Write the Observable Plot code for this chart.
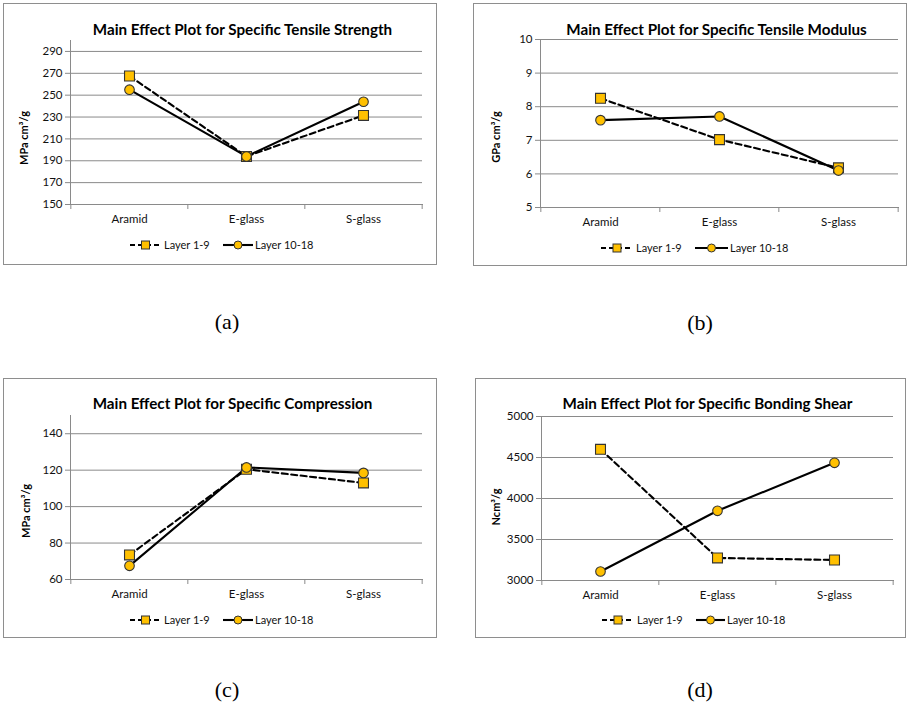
<!DOCTYPE html>
<html><head><meta charset="utf-8">
<script src="https://cdn.jsdelivr.net/npm/d3@7"></script>
<script src="https://cdn.jsdelivr.net/npm/@observablehq/plot@0.6"></script>
<style>
body{margin:0;background:#fff;width:911px;height:706px;position:relative;overflow:hidden;font-family:Lato,sans-serif}
.box{position:absolute;border:1px solid #8e8e8e;box-sizing:border-box}
.plotwrap{position:absolute}
.plotwrap svg{overflow:visible;display:block}
.title{position:absolute;font-weight:bold;font-size:15.2px;font-family:Lato,sans-serif;white-space:nowrap;transform:translate(-50%,-50%);color:#000}
.ylab{position:absolute;font-weight:bold;font-size:11px;font-family:Lato,sans-serif;white-space:nowrap;transform:translate(-50%,-50%) rotate(-90deg);color:#000}
.cap{position:absolute;font-size:22px;font-family:"Liberation Serif",serif;transform:translate(-50%,-50%);color:#000}
.legend{position:absolute;overflow:visible}
</style>
</head><body>
<script>
const categories = ["Aramid", "E-glass", "S-glass"];
const seriesNames = ["Layer 1-9", "Layer 10-18"];

const strengthL1 = [267.5, 194, 231.5];
const strengthL2 = [255, 194, 244];
const strengthTicks = [150, 170, 190, 210, 230, 250, 270, 290];

const modulusL1 = [8.25, 7.02, 6.18];
const modulusL2 = [7.6, 7.71, 6.1];
const modulusTicks = [5, 6, 7, 8, 9, 10];

const compressionL1 = [73.5, 120.5, 113];
const compressionL2 = [67.5, 121.5, 118.5];
const compressionTicks = [60, 80, 100, 120, 140];

const shearL1 = [4600, 3275, 3250];
const shearL2 = [3110, 3850, 4435];
const shearTicks = [3000, 3500, 4000, 4500, 5000];

const titles = [
  "Main Effect Plot for Specific Tensile Strength",
  "Main Effect Plot for Specific Tensile Modulus",
  "Main Effect Plot for Specific Compression",
  "Main Effect Plot for Specific Bonding Shear"
];
const yLabels = ["MPa cm³/g", "GPa cm³/g", "MPa cm³/g", "Ncm³/g"];
const captions = ["(a)", "(b)", "(c)", "(d)"];

const panels = [
  {l1: strengthL1, l2: strengthL2, ticks: strengthTicks, domain: [150, 300],
   box: [3, 3, 434, 262], m: [37, 15, 61, 67],
   title: [242.5, 29], ylab: [23, 138], cap: [227, 322],
   leg: {y: 245, g1: 130, t1: 164, g2: 223, t2: 255}},
  {l1: modulusL1, l2: modulusL2, ticks: modulusTicks, domain: [5, 10],
   box: [473, 3, 434, 263], m: [36, 9, 59, 67],
   title: [716.5, 29], ylab: [495, 137], cap: [700, 323],
   leg: {y: 248, g1: 601, t1: 636, g2: 695, t2: 730}},
  {l1: compressionL1, l2: compressionL2, ticks: compressionTicks, domain: [60, 150],
   box: [3, 378, 434, 260], m: [37, 15, 59, 67],
   title: [232.5, 403], ylab: [25, 511], cap: [227, 690],
   leg: {y: 620, g1: 130, t1: 164, g2: 223, t2: 255}},
  {l1: shearL1, l2: shearL2, ticks: shearTicks, domain: [3000, 5000],
   box: [475, 378, 431, 260], m: [38, 13, 58, 66],
   title: [707.5, 403], ylab: [495, 507], cap: [700, 690],
   leg: {y: 620, g1: 602, t1: 637, g2: 696, t2: 727}}
];

const GRID = "#8a8a8a";
const FILL = "#FFC000";
const EDGE = "#333333";

function el(cls, x, y, text) {
  const d = document.createElement("div");
  d.className = cls;
  d.style.left = x + "px";
  d.style.top = y + "px";
  d.textContent = text;
  document.body.appendChild(d);
  return d;
}

panels.forEach((p, k) => {
  const [bx, by, bw, bh] = p.box;
  const box = document.createElement("div");
  box.className = "box";
  Object.assign(box.style, {left: bx + "px", top: by + "px", width: bw + "px", height: bh + "px"});
  document.body.appendChild(box);

  const rows1 = categories.map((c, i) => ({cat: c, series: seriesNames[0], v: p.l1[i]}));
  const rows2 = categories.map((c, i) => ({cat: c, series: seriesNames[1], v: p.l2[i]}));
  const [mt, mr, mb, ml] = p.m;
  const step = (bw - ml - mr) / categories.length;

  const chart = Plot.plot({
    width: bw, height: bh,
    marginTop: mt, marginRight: mr, marginBottom: mb, marginLeft: ml,
    style: {fontFamily: "Lato, sans-serif", fontSize: "11px", color: "#000", background: "transparent"},
    x: {type: "point", domain: categories, padding: 0.5, axis: null, label: null},
    y: {domain: p.domain, axis: null, label: null},
    marks: [
      Plot.gridY(p.ticks, {stroke: GRID, strokeOpacity: 1, strokeWidth: 1}),
      Plot.frame({anchor: "left", stroke: GRID}),
      Plot.frame({anchor: "bottom", stroke: GRID}),
      Plot.axisY(p.ticks, {tickSize: 5, tickPadding: 3, stroke: GRID, fill: "#111", fontSize: 11.5, label: null, tickFormat: d3.format("d")}),
      Plot.axisX({tickSize: 0, tickPadding: 10, fill: "#111", fontSize: 11.5, label: null}),
      Plot.ruleX(categories, {x: d => d, dx: -step / 2, y1: p.domain[0], y2: p.domain[0], insetBottom: -5, stroke: GRID}),
      Plot.ruleX([categories[categories.length - 1]], {x: d => d, dx: step / 2, y1: p.domain[0], y2: p.domain[0], insetBottom: -5, stroke: GRID}),
      Plot.line(rows1, {x: "cat", y: "v", stroke: "#000", strokeWidth: 2.1, strokeDasharray: "6,3.5"}),
      Plot.line(rows2, {x: "cat", y: "v", stroke: "#000", strokeWidth: 2.1}),
      Plot.dot(rows1, {x: "cat", y: "v", symbol: "square", r: 5.6, fill: FILL, stroke: EDGE, strokeWidth: 1.1}),
      Plot.dot(rows2, {x: "cat", y: "v", symbol: "circle", r: 4.8, fill: FILL, stroke: EDGE, strokeWidth: 1.1})
    ]
  });
  const wrap = document.createElement("div");
  wrap.className = "plotwrap";
  wrap.style.left = bx + "px";
  wrap.style.top = by + "px";
  wrap.appendChild(chart);
  document.body.appendChild(wrap);

  el("title", p.title[0], p.title[1], titles[k]);
  el("ylab", p.ylab[0], p.ylab[1], yLabels[k]);
  el("cap", p.cap[0], p.cap[1], captions[k]);

  // legend
  const L = p.leg;
  const ox = L.g1 - 5, oy = L.y - 10;
  const svg = d3.select(document.body).append("svg")
    .attr("class", "legend")
    .attr("width", 200).attr("height", 20)
    .style("left", ox + "px").style("top", oy + "px");
  const g = svg.append("g").attr("transform", `translate(${-ox},${-oy})`);
  g.append("line").attr("x1", L.g1).attr("x2", L.t1 - 3).attr("y1", L.y).attr("y2", L.y)
    .attr("stroke", "#000").attr("stroke-width", 2).attr("stroke-dasharray", "5,3");
  const c1 = (L.g1 + L.t1 - 3) / 2;
  g.append("rect").attr("x", c1 - 4).attr("y", L.y - 4).attr("width", 8).attr("height", 8)
    .attr("fill", FILL).attr("stroke", EDGE).attr("stroke-width", 1);
  g.append("text").attr("x", L.t1).attr("y", L.y).attr("dy", "0.35em")
    .attr("font-family", "Lato, sans-serif").attr("font-size", 11).attr("fill", "#111").text(seriesNames[0]);
  g.append("line").attr("x1", L.g2).attr("x2", L.t2 - 2).attr("y1", L.y).attr("y2", L.y)
    .attr("stroke", "#000").attr("stroke-width", 2.1);
  const c2 = (L.g2 + L.t2 - 2) / 2;
  g.append("circle").attr("cx", c2).attr("cy", L.y).attr("r", 4)
    .attr("fill", FILL).attr("stroke", EDGE).attr("stroke-width", 1);
  g.append("text").attr("x", L.t2).attr("y", L.y).attr("dy", "0.35em")
    .attr("font-family", "Lato, sans-serif").attr("font-size", 11).attr("fill", "#111").text(seriesNames[1]);
});
</script>
</body></html>
